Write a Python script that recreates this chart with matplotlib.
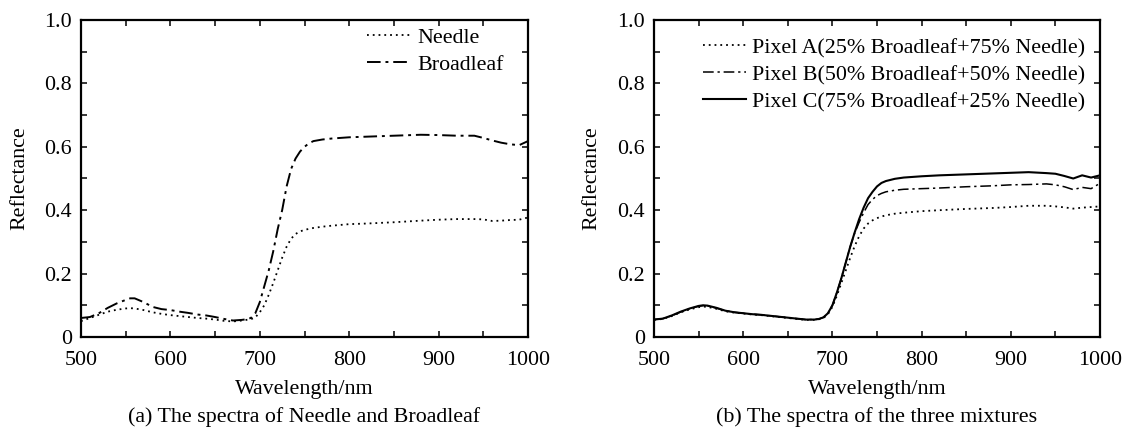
import matplotlib
matplotlib.use("Agg")
import matplotlib.pyplot as plt
from matplotlib.ticker import MultipleLocator

plt.rcParams['font.family'] = ['Liberation Serif', 'DejaVu Serif']

wavelength = [500, 510, 520, 530, 540, 550, 555, 560, 570, 580,
              590, 600, 610, 620, 630, 640, 650, 660, 670, 680,
              685, 690, 695, 700, 705, 710, 715, 720, 725, 730,
              735, 740, 745, 750, 755, 760, 770, 780, 800, 820,
              850, 880, 900, 920, 940, 950, 960, 970, 980, 990, 1000]

needle = [.050, .060, .070, .080, .086, .090, .091, .090, .085, .078,
          .073, .069, .066, .063, .060, .058, .055, .051, .049, .052,
          .054, .056, .062, .078, .100, .133, .170, .210, .250, .285,
          .310, .325, .333, .338, .341, .344, .348, .351, .356, .358,
          .362, .367, .370, .372, .372, .371, .366, .367, .369, .370, .377]

broadleaf = [.060, .063, .075, .092, .106, .117, .122, .122, .110, .095,
             .088, .085, .080, .076, .071, .068, .063, .057, .052, .054,
             .056, .060, .075, .110, .160, .210, .270, .340, .400, .475,
             .530, .563, .585, .600, .611, .618, .623, .626, .630, .632,
             .635, .638, .637, .635, .635, .628, .620, .613, .608, .605, .618]

pixel_a = [.054, .057, .066, .078, .087, .094, .096, .095, .089, .081,
           .077, .074, .071, .069, .066, .063, .060, .057, .054, .054,
           .056, .060, .072, .095, .130, .170, .210, .250, .287, .318,
           .342, .358, .368, .375, .380, .384, .389, .392, .397, .400,
           .404, .407, .410, .414, .414, .412, .409, .405, .408, .410, .412]

pixel_b = [.055, .058, .067, .079, .089, .097, .099, .098, .091, .083,
           .078, .075, .072, .070, .067, .064, .061, .058, .055, .055,
           .057, .062, .075, .100, .140, .185, .235, .285, .328, .362,
           .392, .418, .434, .446, .453, .458, .463, .466, .468, .470,
           .474, .477, .480, .481, .483, .480, .474, .465, .472, .468, .485]

pixel_c = [.055, .058, .068, .080, .090, .098, .100, .099, .092, .083,
           .078, .075, .072, .070, .067, .064, .061, .058, .055, .055,
           .057, .062, .075, .100, .140, .185, .235, .285, .330, .372,
           .408, .438, .458, .475, .486, .492, .499, .503, .507, .510,
           .513, .516, .518, .520, .517, .515, .508, .500, .510, .503, .510]

labels_a = ['Needle', 'Broadleaf']
labels_b = ['Pixel A(25% Broadleaf+75% Needle)',
            'Pixel B(50% Broadleaf+50% Needle)',
            'Pixel C(75% Broadleaf+25% Needle)']
captions = ['(a) The spectra of Needle and Broadleaf',
            '(b) The spectra of the three mixtures']
yticks = [0, 0.2, 0.4, 0.6, 0.8, 1.0]
ytick_labels = ['0', '0.2', '0.4', '0.6', '0.8', '1.0']

FS = 15.8
W, H = 1127, 433
fig = plt.figure(figsize=(W / 100, H / 100), dpi=100)
ax1 = fig.add_axes([81 / W, 96 / H, 447 / W, 317 / H])
ax2 = fig.add_axes([654 / W, 96 / H, 446 / W, 317 / H])

dotted = (0, (1, 2.2))
dashdot = (0, (7, 2.5, 1.5, 2.5))

ax1.plot(wavelength, needle, color='black', lw=1.3, linestyle=dotted, label=labels_a[0])
ax1.plot(wavelength, broadleaf, color='black', lw=1.4, linestyle=dashdot, label=labels_a[1])

ax2.plot(wavelength, pixel_a, color='black', lw=1.3, linestyle=dotted, label=labels_b[0])
ax2.plot(wavelength, pixel_b, color='black', lw=1.1, linestyle=dashdot, label=labels_b[1])
ax2.plot(wavelength, pixel_c, color='black', lw=1.5, linestyle='-', label=labels_b[2])

for ax, cap, ylx in zip([ax1, ax2], captions, [-0.137, -0.139]):
    ax.set_xlim(500, 1000)
    ax.set_ylim(0, 1.0)
    ax.xaxis.set_major_locator(MultipleLocator(100))
    ax.xaxis.set_minor_locator(MultipleLocator(50))
    ax.yaxis.set_minor_locator(MultipleLocator(0.1))
    ax.set_yticks(yticks)
    ax.set_yticklabels(ytick_labels)
    ax.tick_params(which='both', direction='in', top=True, right=True,
                   length=4.5, width=1.1, labelsize=FS)
    ax.tick_params(axis='x', pad=10)
    ax.tick_params(axis='y', pad=6.5)
    for s in ax.spines.values():
        s.set_linewidth(1.6)
    ax.set_xlabel('Wavelength/nm', fontsize=FS, va='center')
    ax.xaxis.set_label_coords(0.5, -0.167)
    ax.set_ylabel('Reflectance', fontsize=FS, va='center')
    ax.yaxis.set_label_coords(ylx, 0.5)
    ax.text(0.5, -0.252, cap, transform=ax.transAxes, ha='center', va='center', fontsize=FS)

ax1.legend(loc='upper right', bbox_to_anchor=(0.946, 0.976), frameon=False, fontsize=FS,
           handlelength=1.95, handletextpad=0.35, labelspacing=0.3, borderaxespad=0, borderpad=0)
ax2.legend(loc='upper right', bbox_to_anchor=(0.966, 0.944), frameon=False, fontsize=FS,
           handlelength=1.95, handletextpad=0.25, labelspacing=0.3, borderaxespad=0, borderpad=0)

fig.savefig('out.png', dpi=100)
